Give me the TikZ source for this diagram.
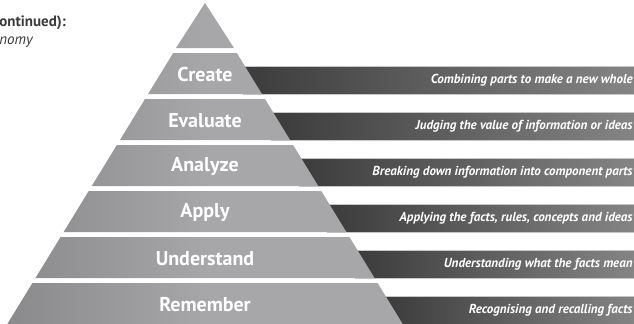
\documentclass[tikz,border=0pt]{standalone}
\usepackage{fontspec}
\setmainfont{PT Sans}
\definecolor{pyrdark}{HTML}{6B6B6D}
\definecolor{pyrlight}{HTML}{A7A7A9}
\definecolor{bardark}{HTML}{343434}
\definecolor{barlight}{HTML}{ABABAB}
\definecolor{barline}{HTML}{C6C6C6}
\definecolor{headgray}{HTML}{3A3A3A}
\pgfdeclarehorizontalshading{pyrshade}{100bp}{color(0bp)=(pyrdark); color(50bp)=(pyrlight); color(100bp)=(pyrlight)}
\pgfdeclarehorizontalshading{barshade}{100bp}{color(0bp)=(bardark); color(20bp)=(bardark); color(100bp)=(barlight)}
\tikzset{
	head/.style = {anchor = base west, inner sep = 0, text = headgray, font = \bfseries\fontsize{7.5}{9}\selectfont},
	subhead/.style = {anchor = base west, inner sep = 0, text = headgray, font = \itshape\fontsize{7.5}{9}\selectfont},
	layer/.style = {text = white, inner sep = 0, font = \bfseries\fontsize{10}{12}\selectfont},
	desc/.style = {anchor = east, inner sep = 0, text = white, font = \bfseries\itshape\fontsize{6.5}{7.5}\selectfont},
	bar/.style = {draw = barline, line width = .5pt, shading = barshade}
}
\begin{document}
\begin{tikzpicture}[x = .5pt, y = -.5pt]
	\useasboundingbox (0, 0) rectangle (634, 323);
	\clip (0, 0) rectangle (634, 323);
	\node [head] (title) at (-1, 26) {ontinued):};
	\node [subhead] (subtitle) at (-1, 44) {nomy};
	\begin{scope}
		\clip (205, 3) -- (234, 48) -- (176, 48) -- cycle;
		\shade [shading = pyrshade] (0, 0) rectangle (420, 330);
	\end{scope}
	\foreach \i/\n/\txt in {0/Create/Combining parts to make a new whole, 1/Evaluate/Judging the value of information or ideas, 2/Analyze/Breaking down information into component parts, 3/Apply/{Applying the facts, rules, concepts and ideas}, 4/Understand/Understanding what the facts mean, 5/Remember/Recognising and recalling facts}{
		\pgfmathsetmacro\yt{53 + 46*\i}
		\pgfmathsetmacro\yb{\yt + 41}
		\pgfmathsetmacro\ya{\yb - 28}
		\shade [bar] ({203 + .612*\ya}, \ya) rectangle (640, \yb);
		\node [desc] (desc-\i) at (633, {(\ya + \yb)/2}) {\txt};
		\begin{scope}
			\clip ({205 - .612*(\yt - 1)}, \yt) -- ({205 + .612*(\yt - 1)}, \yt) -- ({205 + .612*(\yb - 1)}, \yb) -- ({205 - .612*(\yb - 1)}, \yb) -- cycle;
			\shade [shading = pyrshade] (0, 0) rectangle (420, 330);
		\end{scope}
		\node [layer] (layer-\i) at (205, {(\yt + \yb)/2 + 1}) {\n};
	};
\end{tikzpicture}
\end{document}
